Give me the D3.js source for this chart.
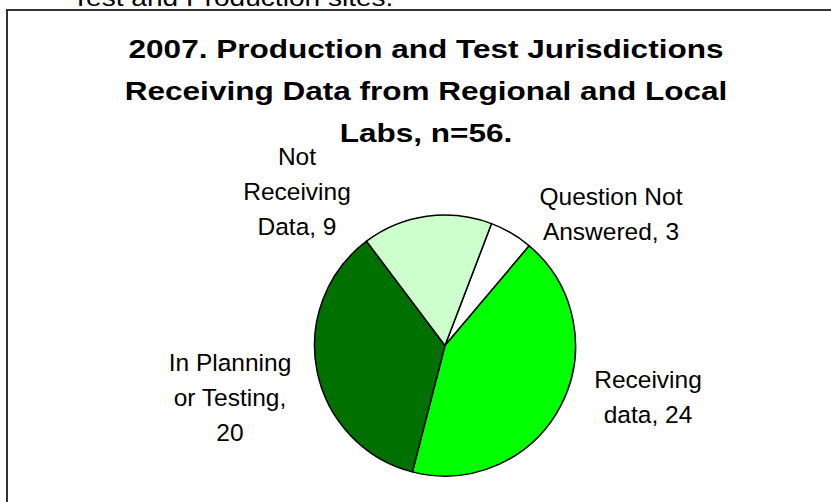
<!DOCTYPE html>
<html>
<head>
<meta charset="utf-8">
<script src="https://cdn.jsdelivr.net/npm/d3@7"></script>
<style>
  html, body { margin: 0; padding: 0; background: #fff; }
  svg { display: block; font-family: "Liberation Sans", Arial, sans-serif; }
</style>
</head>
<body>
<svg id="wrapper" width="831" height="502"></svg>
<script>
// slice data, clockwise from the top-right
var categories = ['Question Not Answered', 'Receiving data', 'In Planning or Testing', 'Not Receiving Data']
var counts = [3, 24, 20, 9]
var labelLines = [
    ['Question Not', 'Answered, 3'],
    ['Receiving', 'data, 24'],
    ['In Planning', 'or Testing,', '20'],
    ['Not', 'Receiving', 'Data, 9']
]
var titleLines = ['2007. Production and Test Jurisdictions', 'Receiving Data from Regional and Local', 'Labs, n=56.']

var svg = d3.select('#wrapper')

var drawPie = () => {

    var cx = 445, cy = 345.5, radius = 130.5

    // text of the document above the chart, cut off by the crop
    svg.append('text')
        .attr('transform', 'translate(72,6) scale(1.17,1)')
        .attr('font-size', 24)
        .attr('fill', '#000')
        .text('Test and Production sites.')

    // chart frame (only top and left edges are inside the picture)
    svg.append('path')
        .attr('d', 'M7,502 V10 H831')
        .attr('fill', 'none')
        .attr('stroke', '#333')
        .attr('stroke-width', 2)

    // title, the original looks horizontally stretched
    svg.selectAll('.title')
        .data(titleLines)
        .join('text')
        .classed('title', true)
        .attr('transform', (d, i) => 'translate(426,' + (58 + i * 42) + ') scale(1.19,1)')
        .attr('text-anchor', 'middle')
        .attr('font-size', 26.5)
        .attr('font-weight', 'bold')
        .text(d => d)

    var color = d3.scaleOrdinal()
                    .domain(categories)
                    .range(['#FFFFFF', '#00FF00', '#007000', '#CCFFCC'])

    var pie = d3.pie()
                .sort(null)
                .value(d => d)
                .startAngle(20.9 * Math.PI / 180)
                .endAngle(20.9 * Math.PI / 180 + 2 * Math.PI)

    var arc = d3.arc().innerRadius(0).outerRadius(radius)

    var slices = pie(counts)

    svg.append('g')
        .attr('transform', 'translate(' + cx + ',' + cy + ')')
        .selectAll('path')
        .data(slices)
        .join('path')
        .attr('d', arc)
        .attr('fill', (d, i) => color(categories[i]))
        .attr('stroke', '#000')
        .attr('stroke-width', 1.5)
        .attr('stroke-linejoin', 'round')

    // label anchors (centre x, first baseline) as Excel placed them
    var labelAnchor = [[611, 205], [648, 388], [230, 371], [297, 165]]

    var labels = svg.selectAll('.slice-label')
        .data(slices)
        .join('text')
        .classed('slice-label', true)
        .attr('text-anchor', 'middle')
        .attr('font-size', 24.5)
        .attr('fill', '#000')

    labels.selectAll('tspan')
        .data((d, i) => labelLines[i].map(line => ({ line: line, i: i })))
        .join('tspan')
        .attr('x', d => labelAnchor[d.i][0])
        .attr('y', (d, j) => labelAnchor[d.i][1] + j * 35)
        .text(d => d.line)
}

drawPie()
</script>
</body>
</html>
